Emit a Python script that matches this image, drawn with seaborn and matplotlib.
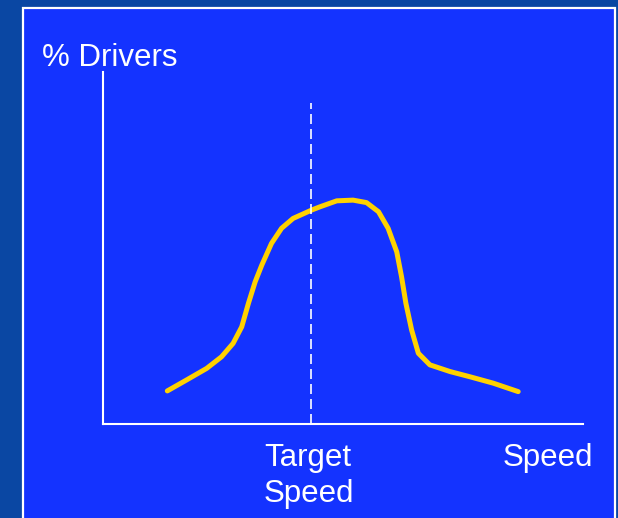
import pandas as pd
import seaborn as sns
import matplotlib.pyplot as plt
from matplotlib.patches import Rectangle

# curve (speed 0-100, % drivers 0-100)
speed = [13.4, 17.4, 21.6, 24.7, 27.1, 28.9, 30.3, 31.7, 33.1, 35.1, 37.2,
         39.6, 43.5, 45.2, 48.7, 52.1, 54.9, 57.4, 59.4, 61.2, 62.2, 63.1,
         64.3, 65.7, 68.1, 72.3, 76.5, 81.3, 86.5]
drivers = [9.4, 12.5, 15.8, 19.1, 22.9, 27.6, 34.3, 40.4, 45.2, 51.3, 55.6,
           58.4, 60.8, 61.7, 63.4, 63.6, 62.9, 60.3, 55.6, 48.9, 41.8, 34.3,
           26.7, 20.1, 16.8, 14.9, 13.4, 11.6, 9.2]
target_speed = 43.3
target_top = 91.2

df = pd.DataFrame({"speed": speed, "drivers": drivers})

sns.set_style("white")
plt.rcParams['font.family'] = ['Liberation Sans', 'DejaVu Sans']

fig = plt.figure(figsize=(6.18, 5.18), dpi=100)
fig.patch.set_facecolor("#0A47A3")
fig.patches.append(Rectangle((23 / 618, -0.05), 592 / 618, 1 - 8 / 518 + 0.05,
                             transform=fig.transFigure, facecolor="#1433FF",
                             edgecolor="white", linewidth=1.6, zorder=-1))

ax = fig.add_axes([103 / 618, 94 / 518, 480 / 618, 352 / 518])
ax.set_facecolor("none")

sns.lineplot(data=df, x="speed", y="drivers", color="#FFD200",
             linewidth=3.6, sort=False, ax=ax)
for ln in ax.lines:
    ln.set_solid_joinstyle("round")
ax.plot([target_speed, target_speed], [0, target_top], color="white",
        linewidth=1.2, dashes=(6, 3))

ax.set_xlim(0, 100)
ax.set_ylim(0, 100)
ax.set_xticks([])
ax.set_yticks([])
ax.set_xlabel("")
ax.set_ylabel("")
for side in ["top", "right"]:
    ax.spines[side].set_visible(False)
for side in ["left", "bottom"]:
    ax.spines[side].set_color("white")
    ax.spines[side].set_linewidth(1.5)

fs = 22.5
fig.text(42 / 618, 1 - 66 / 518, "% Drivers", color="white", fontsize=fs,
         ha="left", va="baseline")
fig.text(264 / 618, 1 - 466 / 518, "Target", color="white", fontsize=fs,
         ha="left", va="baseline")
fig.text(264 / 618, 1 - 502 / 518, "Speed", color="white", fontsize=fs,
         ha="left", va="baseline")
fig.text(593 / 618, 1 - 466 / 518, "Speed", color="white", fontsize=fs,
         ha="right", va="baseline")

plt.savefig("out.png", dpi=100)
